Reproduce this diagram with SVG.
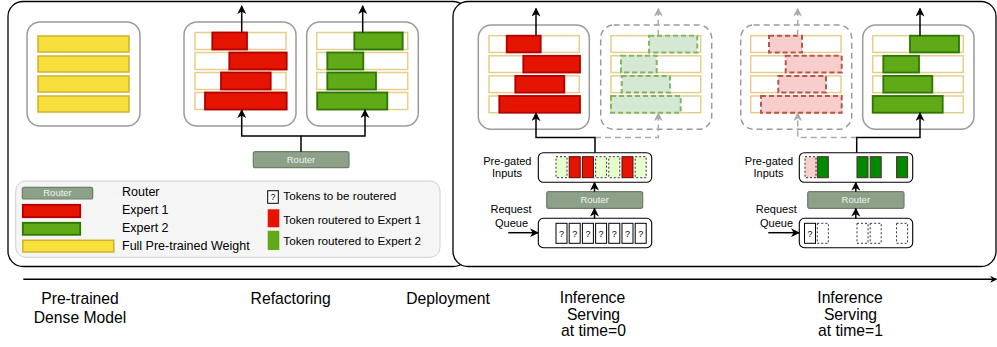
<svg xmlns="http://www.w3.org/2000/svg" width="997" height="347" viewBox="0 0 997 347">
<defs>
<style>
text{font-family:"Liberation Sans",Arial,sans-serif;fill:#000}
.panel{fill:#fff;stroke:#000;stroke-width:1.3}
.mod{fill:#fff;stroke:#9a9a9a;stroke-width:1.5}
.modd{fill:#fff;stroke:#9a9a9a;stroke-width:1.5;stroke-dasharray:6 4}
.row{fill:#fff;stroke:#E5CE8C;stroke-width:1.5}
.yel{fill:#F7E03B;stroke:#CDB12A;stroke-width:1.5}
.red{fill:#E51400;stroke:#B20000;stroke-width:1.8}
.grn{fill:#60A917;stroke:#2D7600;stroke-width:1.8}
.redd{fill:#F8CECC;stroke:#B85450;stroke-width:2;stroke-dasharray:5 3}
.grnd{fill:#D5E8D4;stroke:#82B366;stroke-width:2;stroke-dasharray:5 3}
.router{fill:#8DA088;stroke:#6B8065;stroke-width:1.2}
.rt{fill:#f2f2f2;font-size:9.5px;text-anchor:middle}
.box{fill:#fff;stroke:#000;stroke-width:1.1}
.tok{fill:#fff;stroke:#000;stroke-width:1}
.tokd{fill:none;stroke:#333;stroke-width:1;stroke-dasharray:2 2}
.tokg{fill:#E6FFCC;stroke:#333;stroke-width:1;stroke-dasharray:2 2}
.tokp{fill:#F8CECC;stroke:#333;stroke-width:1;stroke-dasharray:2 2}
.tokr{fill:#E51400;stroke:#5a0a0a;stroke-width:1}
.tokG{fill:#008A00;stroke:#4a2a2a;stroke-width:1}
.q{font-size:9px;text-anchor:middle}
.lbl{font-size:11px;text-anchor:middle}
.leg{font-size:12.5px}
.leg2{font-size:11.7px}
.big{font-size:15.7px;text-anchor:middle}
.conn{fill:none;stroke:#000;stroke-width:1.5}
.connd{fill:none;stroke:#aaa;stroke-width:1.5;stroke-dasharray:6 4}
</style>
<marker id="ah" viewBox="0 0 10 10" refX="9" refY="5" markerUnits="userSpaceOnUse" markerWidth="9" markerHeight="9" orient="auto">
<path d="M0,0 L10,5 L0,10 L3,5 z" fill="#000"/>
</marker>
<marker id="ahg" viewBox="0 0 10 10" refX="9" refY="5" markerUnits="userSpaceOnUse" markerWidth="9" markerHeight="9" orient="auto">
<path d="M0,0 L10,5 L0,10 L3,5 z" fill="#aaa"/>
</marker>
<marker id="aht" viewBox="0 0 10 10" refX="9" refY="5" markerUnits="userSpaceOnUse" markerWidth="7" markerHeight="7" orient="auto">
<path d="M0,0 L10,5 L0,10 L3,5 z" fill="#000"/>
</marker>
</defs>

<g id="panel-left"><rect class="panel" x="8" y="1.5" width="460" height="265" rx="15"/></g>
<g id="panel-right"><rect class="panel" x="453" y="1.5" width="543" height="265" rx="15"/></g>

<g id="dense-model">
<rect class="mod" x="27" y="22" width="113" height="104" rx="13"/>
<rect class="yel" x="38" y="36" width="91" height="16"/>
<rect class="yel" x="38" y="56" width="91" height="16"/>
<rect class="yel" x="38" y="76" width="91" height="16"/>
<rect class="yel" x="38" y="96" width="91" height="16"/>
</g>

<g id="refactor-expert1">
<rect class="mod" x="184" y="22" width="112" height="104" rx="13"/>
<rect class="row" x="195" y="32.5" width="91" height="17"/>
<rect class="row" x="195" y="52.5" width="91" height="17"/>
<rect class="row" x="195" y="72.5" width="91" height="17"/>
<rect class="row" x="195" y="92.5" width="91" height="17"/>
<rect class="red" x="212.3" y="32.5" width="34.7" height="17"/>
<rect class="red" x="229.3" y="52.5" width="57.4" height="17"/>
<rect class="red" x="221" y="72.5" width="49.7" height="17"/>
<rect class="red" x="205" y="92.5" width="81.7" height="17"/>
</g>

<g id="refactor-expert2">
<rect class="mod" x="306.7" y="22" width="111.6" height="104" rx="13"/>
<rect class="row" x="316.7" y="32.5" width="91" height="17"/>
<rect class="row" x="316.7" y="52.5" width="91" height="17"/>
<rect class="row" x="316.7" y="72.5" width="91" height="17"/>
<rect class="row" x="316.7" y="92.5" width="91" height="17"/>
<rect class="grn" x="354.3" y="32.5" width="48.4" height="17"/>
<rect class="grn" x="327.3" y="52.5" width="36" height="17"/>
<rect class="grn" x="327.3" y="72.5" width="48.7" height="17"/>
<rect class="grn" x="317.3" y="92.5" width="70" height="17"/>
</g>

<g id="refactor-router">
<rect class="router" x="253.3" y="151.7" width="95.7" height="16" rx="2"/>
<text class="rt" x="301" y="163">Router</text>
</g>

<g id="legend">
<rect x="15.7" y="181" width="424.3" height="76.3" rx="10" fill="#F5F5F5" stroke="#cfcfcf" stroke-width="1"/>
<rect class="router" x="22.3" y="187.3" width="70.4" height="11.7" rx="2"/>
<text class="rt" x="57.5" y="196.3">Router</text>
<rect class="red" x="22.8" y="204.8" width="57.4" height="12.4"/>
<rect class="grn" x="22.8" y="222.8" width="57.4" height="12"/>
<rect class="yel" x="22.8" y="240.3" width="91" height="11.7"/>
<text class="leg" x="122" y="196">Router</text>
<text class="leg" x="122" y="214.3">Expert 1</text>
<text class="leg" x="122" y="232">Expert 2</text>
<text class="leg" x="122" y="250">Full Pre-trained Weight</text>
<rect class="tok" x="267.7" y="190.7" width="10.6" height="12.6"/>
<text class="q" x="273" y="200.3">?</text>
<rect x="267.7" y="209.3" width="11.6" height="18" fill="#E51400"/>
<rect x="267.7" y="230.7" width="11.6" height="19.3" fill="#60A917"/>
<text class="leg2" x="283.3" y="199.8">Tokens to be routered</text>
<text class="leg2" x="283.3" y="223.8">Token routered to Expert 1</text>
<text class="leg2" x="283.3" y="245">Token routered to Expert 2</text>
</g>

<g id="t0-expert1">
<rect class="mod" x="478.3" y="25" width="111" height="104.3" rx="13"/>
<rect class="row" x="489" y="35.7" width="90.3" height="16.7"/>
<rect class="row" x="489" y="55.8" width="90.3" height="16.7"/>
<rect class="row" x="489" y="75.9" width="90.3" height="16.7"/>
<rect class="row" x="489" y="96" width="90.3" height="16.7"/>
<rect class="red" x="506.7" y="35.7" width="34" height="16.7"/>
<rect class="red" x="523.3" y="55.8" width="56.7" height="16.7"/>
<rect class="red" x="515.3" y="75.9" width="49" height="16.7"/>
<rect class="red" x="499.3" y="96" width="80.7" height="16.7"/>
</g>

<g id="t0-expert2-inactive">
<rect class="modd" x="600.7" y="25" width="111" height="104.3" rx="13"/>
<rect class="row" x="611" y="35.7" width="89.7" height="16.7"/>
<rect class="row" x="611" y="55.8" width="89.7" height="16.7"/>
<rect class="row" x="611" y="75.9" width="89.7" height="16.7"/>
<rect class="row" x="611" y="96" width="89.7" height="16.7"/>
<rect class="grnd" x="649" y="35.7" width="48.3" height="16.7"/>
<rect class="grnd" x="621" y="55.8" width="35.7" height="16.7"/>
<rect class="grnd" x="621.7" y="75.9" width="48.3" height="16.7"/>
<rect class="grnd" x="611" y="96" width="69.7" height="16.7"/>
</g>

<g id="t1-expert1-inactive">
<rect class="modd" x="740.7" y="25" width="111" height="104.3" rx="13"/>
<rect class="row" x="750.7" y="35.7" width="90.3" height="16.7"/>
<rect class="row" x="750.7" y="55.8" width="90.3" height="16.7"/>
<rect class="row" x="750.7" y="75.9" width="90.3" height="16.7"/>
<rect class="row" x="750.7" y="96" width="90.3" height="16.7"/>
<rect class="redd" x="769" y="35.7" width="33" height="16.7"/>
<rect class="redd" x="785.7" y="55.8" width="56" height="16.7"/>
<rect class="redd" x="778.3" y="75.9" width="47.7" height="16.7"/>
<rect class="redd" x="761" y="96" width="80.7" height="16.7"/>
</g>

<g id="t1-expert2">
<rect class="mod" x="862.7" y="25" width="111.3" height="104.3" rx="13"/>
<rect class="row" x="872.7" y="35.7" width="90.6" height="16.7"/>
<rect class="row" x="872.7" y="55.8" width="90.6" height="16.7"/>
<rect class="row" x="872.7" y="75.9" width="90.6" height="16.7"/>
<rect class="row" x="872.7" y="96" width="90.6" height="16.7"/>
<rect class="grn" x="910" y="35.7" width="49" height="16.7"/>
<rect class="grn" x="883.3" y="55.8" width="35.7" height="16.7"/>
<rect class="grn" x="883.3" y="75.9" width="49" height="16.7"/>
<rect class="grn" x="872.7" y="96" width="70" height="16.7"/>
</g>

<g id="t0-pregated">
<rect class="box" x="538.3" y="152.7" width="113.4" height="29.6" rx="5"/>
<rect class="tokg" x="556" y="156.7" width="11" height="21"/>
<rect class="tokr" x="569.2" y="156.7" width="11" height="21"/>
<rect class="tokr" x="582.4" y="156.7" width="11" height="21"/>
<rect class="tokg" x="595.6" y="156.7" width="11" height="21"/>
<rect class="tokg" x="608.8" y="156.7" width="11" height="21"/>
<rect class="tokr" x="622" y="156.7" width="11" height="21"/>
<rect class="tokg" x="635.2" y="156.7" width="11" height="21"/>
<text class="lbl" x="507.3" y="165">Pre-gated</text>
<text class="lbl" x="507" y="176.7">Inputs</text>
</g>

<g id="t0-router">
<rect class="router" x="546.7" y="191.7" width="96" height="16.6" rx="2"/>
<text class="rt" x="594.7" y="203.3">Router</text>
</g>

<g id="t0-queue">
<rect class="box" x="538.3" y="218.3" width="113.4" height="29.4" rx="5"/>
<rect class="tok" x="556" y="223.3" width="11" height="20"/>
<rect class="tok" x="569.2" y="223.3" width="11" height="20"/>
<rect class="tok" x="582.4" y="223.3" width="11" height="20"/>
<rect class="tok" x="595.6" y="223.3" width="11" height="20"/>
<rect class="tok" x="608.8" y="223.3" width="11" height="20"/>
<rect class="tok" x="622" y="223.3" width="11" height="20"/>
<rect class="tok" x="635.2" y="223.3" width="11" height="20"/>
<text class="q" x="561.5" y="236.5">?</text>
<text class="q" x="574.7" y="236.5">?</text>
<text class="q" x="587.9" y="236.5">?</text>
<text class="q" x="601.1" y="236.5">?</text>
<text class="q" x="614.3" y="236.5">?</text>
<text class="q" x="627.5" y="236.5">?</text>
<text class="q" x="640.7" y="236.5">?</text>
<text class="lbl" x="511" y="213.3">Request</text>
<text class="lbl" x="511.5" y="226.7">Queue</text>
</g>

<g id="t1-pregated">
<rect class="box" x="799.3" y="152.7" width="113.4" height="29.6" rx="5"/>
<rect class="tokp" x="805" y="156.7" width="11" height="21"/>
<rect class="tokG" x="817.3" y="156.7" width="11" height="21"/>
<rect class="tokG" x="857" y="156.7" width="11" height="21"/>
<rect class="tokG" x="870.2" y="156.7" width="11" height="21"/>
<rect class="tokG" x="896.6" y="156.7" width="11" height="21"/>
<text class="lbl" x="769" y="165">Pre-gated</text>
<text class="lbl" x="768.5" y="176.7">Inputs</text>
</g>

<g id="t1-router">
<rect class="router" x="807.7" y="191.7" width="96.3" height="16.6" rx="2"/>
<text class="rt" x="855.8" y="203.3">Router</text>
</g>

<g id="t1-queue">
<rect class="box" x="799.3" y="218.3" width="113.4" height="29.4" rx="5"/>
<rect class="tok" x="804.5" y="223.3" width="11" height="20"/>
<text class="q" x="810" y="236.5">?</text>
<rect class="tokd" x="817.3" y="223.3" width="11" height="20"/>
<rect class="tokd" x="857" y="223.3" width="11" height="20"/>
<rect class="tokd" x="870.2" y="223.3" width="11" height="20"/>
<rect class="tokd" x="896.6" y="223.3" width="11" height="20"/>
<text class="lbl" x="776.3" y="213.3">Request</text>
<text class="lbl" x="776.5" y="226.7">Queue</text>
</g>

<g id="connectors">
<path class="conn" d="M241.7,32.5 V6" marker-end="url(#ah)"/>
<path class="conn" d="M362.7,32.5 V6" marker-end="url(#ah)"/>
<path class="conn" d="M301,151.7 V136 H241.7 V110" marker-end="url(#ah)"/>
<path class="conn" d="M301,136 H365 V110" marker-end="url(#ah)"/>

<path class="conn" d="M536,35.7 V8.5" marker-end="url(#ah)"/>
<path class="connd" d="M658.3,35.7 V8.5" marker-end="url(#ahg)"/>
<path class="connd" d="M595,137.5 H658.3 V113" marker-end="url(#ahg)"/>
<path class="conn" d="M595,152.7 V137.5 H536 V113" marker-end="url(#ah)"/>
<path class="conn" d="M594.5,191.7 V182.5" marker-end="url(#ah)"/>
<path class="conn" d="M594.5,218.3 V208.5" marker-end="url(#ah)"/>
<path class="conn" d="M508.3,232.7 H538" marker-end="url(#ah)"/>

<path class="connd" d="M797.7,35.7 V8.5" marker-end="url(#ahg)"/>
<path class="conn" d="M920,35.7 V8.5" marker-end="url(#ah)"/>
<path class="connd" d="M856.7,137.5 H797.7 V113" marker-end="url(#ahg)"/>
<path class="conn" d="M856.7,152.7 V137.5 H920 V113" marker-end="url(#ah)"/>
<path class="conn" d="M855.8,191.7 V182.5" marker-end="url(#ah)"/>
<path class="conn" d="M855.8,218.3 V208.5" marker-end="url(#ah)"/>
<path class="conn" d="M768.3,232.7 H799" marker-end="url(#ah)"/>

<path class="conn" d="M23.3,279.3 H996.5" stroke-width="1.2" marker-end="url(#aht)"/>
</g>

<g id="timeline-labels">
<text class="big" x="80" y="304">Pre-trained</text>
<text class="big" x="80" y="323.3">Dense Model</text>
<text class="big" x="290.7" y="304">Refactoring</text>
<text class="big" x="448" y="304">Deployment</text>
<text class="big" x="592.5" y="302.7">Inference</text>
<text class="big" x="593.5" y="319.5">Serving</text>
<text class="big" x="593.5" y="336">at time=0</text>
<text class="big" x="850" y="302.7">Inference</text>
<text class="big" x="850.5" y="319.5">Serving</text>
<text class="big" x="850.5" y="336">at time=1</text>
</g>
</svg>
